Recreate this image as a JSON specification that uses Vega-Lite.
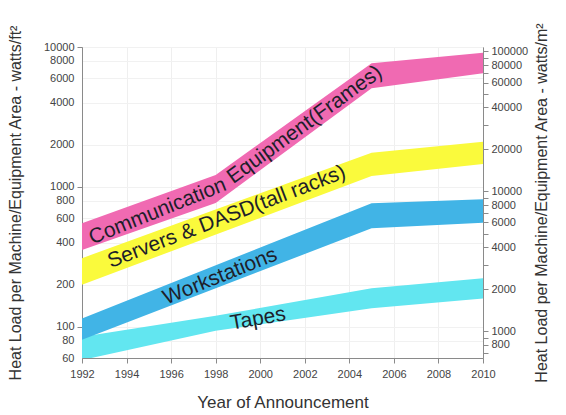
{
  "$schema": "https://vega.github.io/schema/vega-lite/v6.json",
  "autosize": "none",
  "width": 401,
  "height": 311,
  "padding": {"left": 82, "top": 47, "right": 83, "bottom": 57},
  "background": "white",
  "config": {
    "font": "Liberation Sans",
    "view": {"stroke": "#8a8a8a", "strokeWidth": 1}
  },
  "datasets": {
    "bands": [
      {"series": "Communication Equipment", "year": 1992, "lo": 355, "hi": 550},
      {"series": "Communication Equipment", "year": 1998, "lo": 769, "hi": 1218},
      {"series": "Communication Equipment", "year": 2005, "lo": 5070, "hi": 7640},
      {"series": "Communication Equipment", "year": 2010, "lo": 6490, "hi": 9110},
      {"series": "Servers & DASD", "year": 1992, "lo": 200, "hi": 310},
      {"series": "Servers & DASD", "year": 2005, "lo": 1199, "hi": 1758},
      {"series": "Servers & DASD", "year": 2010, "lo": 1459, "hi": 2108},
      {"series": "Tapes", "year": 1992, "lo": 58, "hi": 85},
      {"series": "Tapes", "year": 1998, "lo": 94, "hi": 120},
      {"series": "Tapes", "year": 2005, "lo": 136, "hi": 189},
      {"series": "Tapes", "year": 2010, "lo": 160, "hi": 223},
      {"series": "Workstations", "year": 1992, "lo": 81, "hi": 115},
      {"series": "Workstations", "year": 2005, "lo": 507, "hi": 765},
      {"series": "Workstations", "year": 2010, "lo": 556, "hi": 817}
    ],
    "labels": [
      {"label": "Communication", "year": 1995.4, "value": 668},
      {"label": "Equipment(Frames)", "year": 2002.0, "value": 2780},
      {"label": "Servers & DASD(tall racks)", "year": 1998.5, "value": 611},
      {"label": "Workstations", "year": 1998.2, "value": 229},
      {"label": "Tapes", "year": 1999.9, "value": 114}
    ]
  },
  "layer": [
    {
      "layer": [
        {
          "data": {"name": "bands"},
          "mark": {"type": "area", "clip": true, "opacity": 1},
          "encoding": {
            "x": {
              "field": "year", "type": "quantitative",
              "scale": {"domain": [1992, 2010], "nice": false, "zero": false},
              "axis": {
                "values": [1992, 1994, 1996, 1998, 2000, 2002, 2004, 2006, 2008, 2010],
                "format": "d", "grid": true, "gridColor": "#efefef", "labelFlush": false,
                "domainColor": "#8a8a8a", "tickColor": "#8a8a8a", "tickSize": 5,
                "labelFontSize": 11, "labelColor": "#444", "labelPadding": 5,
                "title": "Year of Announcement", "titleFontSize": 17,
                "titleFontWeight": "normal", "titleColor": "#333", "titlePadding": 15
              }
            },
            "y": {
              "field": "lo", "type": "quantitative",
              "scale": {"type": "log", "domain": [60, 10000], "nice": false},
              "axis": {
                "orient": "left",
                "values": [60, 80, 100, 200, 400, 600, 800, 1000, 2000, 4000, 6000, 8000, 10000],
                "format": "d", "labelOverlap": false, "grid": true, "gridColor": "#f1f1f1",
                "domainColor": "#8a8a8a", "tickColor": "#8a8a8a", "tickSize": 5,
                "tickOpacity": {"condition": {"test": "indexof([100, 1000, 10000], datum.value) >= 0", "value": 1}, "value": 0},
                "labelFontSize": 11, "labelColor": "#444", "labelPadding": 3,
                "title": "Heat Load per Machine/Equipment Area - watts/ft²",
                "titleFontSize": 16, "titleFontWeight": "normal", "titleColor": "#333", "titlePadding": 20
              }
            },
            "y2": {"field": "hi"},
            "color": {
              "field": "series", "type": "nominal",
              "scale": {
                "domain": ["Communication Equipment", "Servers & DASD", "Tapes", "Workstations"],
                "range": ["#f06ab2", "#fafa3c", "#62e6f0", "#41b4e6"]
              },
              "legend": null
            }
          }
        },
        {
          "data": {"name": "labels"},
          "transform": [{"filter": "datum.label == 'Communication'"}],
          "mark": {"type": "text", "angle": -22, "fontSize": 21, "color": "#1e1e2a", "align": "center", "baseline": "middle"},
          "encoding": {
            "x": {"field": "year", "type": "quantitative"},
            "y": {"field": "value", "type": "quantitative"},
            "text": {"field": "label"}
          }
        },
        {
          "data": {"name": "labels"},
          "transform": [{"filter": "datum.label == 'Equipment(Frames)'"}],
          "mark": {"type": "text", "angle": -36, "fontSize": 21, "color": "#1e1e2a", "align": "center", "baseline": "middle"},
          "encoding": {
            "x": {"field": "year", "type": "quantitative"},
            "y": {"field": "value", "type": "quantitative"},
            "text": {"field": "label"}
          }
        },
        {
          "data": {"name": "labels"},
          "transform": [{"filter": "datum.label == 'Servers & DASD(tall racks)'"}],
          "mark": {"type": "text", "angle": -21, "fontSize": 21, "color": "#1e1e2a", "align": "center", "baseline": "middle"},
          "encoding": {
            "x": {"field": "year", "type": "quantitative"},
            "y": {"field": "value", "type": "quantitative"},
            "text": {"field": "label"}
          }
        },
        {
          "data": {"name": "labels"},
          "transform": [{"filter": "datum.label == 'Workstations'"}],
          "mark": {"type": "text", "angle": -22, "fontSize": 21, "color": "#1e1e2a", "align": "center", "baseline": "middle"},
          "encoding": {
            "x": {"field": "year", "type": "quantitative"},
            "y": {"field": "value", "type": "quantitative"},
            "text": {"field": "label"}
          }
        },
        {
          "data": {"name": "labels"},
          "transform": [{"filter": "datum.label == 'Tapes'"}],
          "mark": {"type": "text", "angle": -10, "fontSize": 21, "color": "#1e1e2a", "align": "center", "baseline": "middle"},
          "encoding": {
            "x": {"field": "year", "type": "quantitative"},
            "y": {"field": "value", "type": "quantitative"},
            "text": {"field": "label"}
          }
        }
      ]
    },
    {
      "data": {"name": "labels"},
      "mark": {"type": "rule", "opacity": 0},
      "encoding": {
        "y": {
          "datum": 1000, "type": "quantitative",
          "scale": {"type": "log", "domain": [645.8, 107639], "nice": false},
          "axis": {
            "orient": "right",
            "values": [700, 800, 900, 1000, 2000, 3000, 4000, 5000, 6000, 7000, 8000, 9000, 10000, 20000, 30000, 40000, 50000, 60000, 70000, 80000, 90000, 100000],
            "format": "d", "labelOverlap": false, "grid": false,
            "labelExpr": "indexof([800, 1000, 2000, 4000, 6000, 8000, 10000, 20000, 40000, 60000, 80000, 100000], datum.value) >= 0 ? datum.label : ''",
            "domainColor": "#8a8a8a", "tickColor": "#8a8a8a", "tickSize": 5,
            "labelFontSize": 11, "labelColor": "#444", "labelPadding": 3,
            "title": "Heat Load per Machine/Equipment Area - watts/m²",
            "titleAngle": -90,
            "titleFontSize": 16, "titleFontWeight": "normal", "titleColor": "#333", "titlePadding": 22
          }
        }
      }
    }
  ],
  "resolve": {"scale": {"y": "independent"}, "axis": {"y": "independent"}}
}
